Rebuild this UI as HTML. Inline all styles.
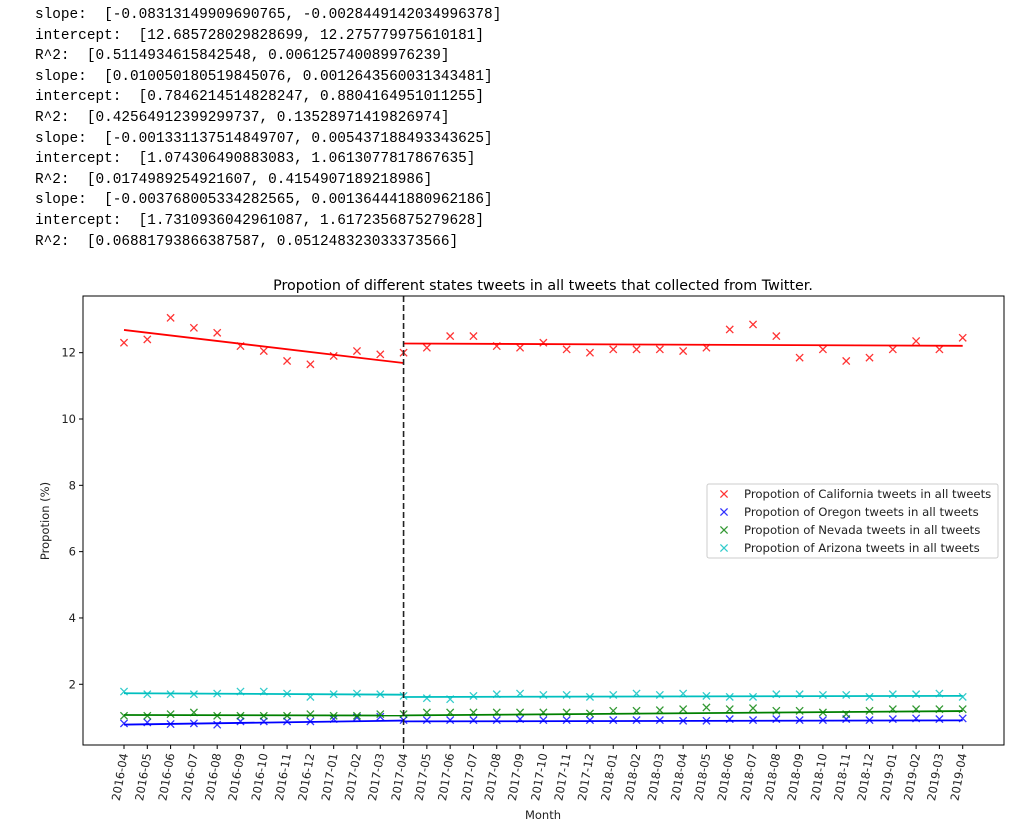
<!DOCTYPE html>
<html><head><meta charset="utf-8"><style>
body{margin:0;background:#fff;width:1027px;height:831px;overflow:hidden;position:relative}
#out{position:absolute;left:35px;top:5px;font-family:"Liberation Mono","Noto Sans CJK SC",monospace;font-size:14.4px;line-height:20.6px;color:#000;white-space:pre;margin:0}
svg{position:absolute;left:0;top:0}
</style></head><body>
<pre id="out">slope:  [-0.08313149909690765, -0.0028449142034996378]
intercept:  [12.685728029828699, 12.275779975610181]
R^2:  [0.5114934615842548, 0.006125740089976239]
slope:  [0.010050180519845076, 0.0012643560031343481]
intercept:  [0.7846214514828247, 0.8804164951011255]
R^2:  [0.42564912399299737, 0.13528971419826974]
slope:  [-0.001331137514849707, 0.005437188493343625]
intercept:  [1.074306490883083, 1.0613077817867635]
R^2:  [0.0174989254921607, 0.4154907189218986]
slope:  [-0.003768005334282565, 0.001364441880962186]
intercept:  [1.7310936042961087, 1.6172356875279628]
R^2:  [0.06881793866387587, 0.051248323033373566]</pre>
<svg id="chart" width="1027" height="831" font-family="DejaVu Sans, Liberation Sans, sans-serif"></svg>
<script>
const months=["2016-04","2016-05","2016-06","2016-07","2016-08","2016-09","2016-10","2016-11","2016-12","2017-01","2017-02","2017-03","2017-04","2017-05","2017-06","2017-07","2017-08","2017-09","2017-10","2017-11","2017-12","2018-01","2018-02","2018-03","2018-04","2018-05","2018-06","2018-07","2018-08","2018-09","2018-10","2018-11","2018-12","2019-01","2019-02","2019-03","2019-04"];
const california=[12.3,12.4,13.05,12.75,12.6,12.2,12.05,11.75,11.65,11.9,12.05,11.95,12.0,12.15,12.5,12.5,12.2,12.15,12.3,12.1,12.0,12.1,12.1,12.1,12.05,12.15,12.7,12.85,12.5,11.85,12.1,11.75,11.85,12.1,12.35,12.1,12.45];
const oregon=[0.82,0.85,0.8,0.82,0.78,0.88,0.88,0.88,0.88,0.95,1.0,1.02,0.92,0.92,0.92,0.92,0.92,0.95,0.92,0.92,0.92,0.92,0.92,0.92,0.9,0.9,0.95,0.92,0.95,0.92,0.92,0.95,0.92,0.95,0.97,0.95,0.97];
const nevada=[1.05,1.05,1.1,1.15,1.05,1.05,1.05,1.05,1.1,1.05,1.05,1.1,1.1,1.15,1.15,1.15,1.15,1.15,1.15,1.15,1.12,1.2,1.2,1.22,1.25,1.3,1.25,1.28,1.2,1.2,1.15,1.1,1.2,1.25,1.25,1.25,1.25];
const arizona=[1.78,1.7,1.7,1.7,1.72,1.78,1.78,1.72,1.62,1.7,1.72,1.7,1.65,1.58,1.55,1.65,1.7,1.72,1.68,1.68,1.62,1.68,1.72,1.68,1.72,1.65,1.62,1.62,1.7,1.7,1.68,1.68,1.62,1.7,1.7,1.72,1.62];
const slopes=[[-0.08313149909690765,-0.0028449142034996378],[0.010050180519845076,0.0012643560031343481],[-0.001331137514849707,0.005437188493343625],[-0.003768005334282565,0.001364441880962186]];
const intercepts=[[12.685728029828699,12.275779975610181],[0.7846214514828247,0.8804164951011255],[1.074306490883083,1.0613077817867635],[1.7310936042961087,1.6172356875279628]];
const yTicks=[2,4,6,8,10,12];
const breakIndex=12;
const seriesNames=["California","Oregon","Nevada","Arizona"];
const colors=["#ff0000","#0000ff","#008000","#00bfbf"];
const allSeries=[california,oregon,nevada,arizona];

const svg=document.getElementById('chart');
const NS='http://www.w3.org/2000/svg';
const L=83,R=1004,T=296,B=745;
const x=i=>124+i*(962.7-124)/36;
const y=v=>750.6-v*33.16;
function mk(tag,attrs,parent){const e=document.createElementNS(NS,tag);for(const k in attrs)e.setAttribute(k,attrs[k]);(parent||svg).appendChild(e);return e;}

const title=mk('text',{x:543,y:290,'text-anchor':'middle','font-size':14.3,fill:'#000'});


title.textContent='Propotion of different states tweets in all tweets that collected from Twitter.';

const plot=mk('g',{});



allSeries.forEach((s,k)=>{
  const g=mk('g',{},plot);
  
  
  s.forEach((v,i)=>{
    const cx=x(i),cy=y(v),d=3.6;
    const p=mk('path',{d:`M${cx-d},${cy-d}L${cx+d},${cy+d}M${cx-d},${cy+d}L${cx+d},${cy-d}`,stroke:colors[k],'stroke-width':1.3,fill:'none','stroke-opacity':0.8},g);
    
    
  });
  const segs=[[0,breakIndex],[breakIndex,months.length-1]];
  segs.forEach((sg,j)=>{
    const a=slopes[k][j],b=intercepts[k][j];
    const n=sg[1]-sg[0];
    const ln=mk('line',{x1:x(sg[0]),y1:y(b),x2:x(sg[1]),y2:y(b+a*n),stroke:colors[k],'stroke-width':1.8},g);
    
    
  });
});

const vl=mk('line',{x1:x(breakIndex),y1:T,x2:x(breakIndex),y2:B,stroke:'#222','stroke-width':1.6,'stroke-dasharray':'6,3'});



const frame=mk('rect',{x:L,y:T,width:R-L,height:B-T,fill:'none',stroke:'#000','stroke-width':1});



yTicks.forEach(v=>{
  const t=mk('line',{x1:L-4,y1:y(v),x2:L,y2:y(v),stroke:'#000'});
  
  
  const tx=mk('text',{x:L-7,y:y(v)+4,'text-anchor':'end','font-size':11.5,fill:'#222'});
  
  
  tx.textContent=v;
});
months.forEach((m,i)=>{
  const t=mk('line',{x1:x(i),y1:B,x2:x(i),y2:B+4,stroke:'#000'});
  
  
  const tx=mk('text',{x:x(i)+4,y:B+9,'text-anchor':'end','font-size':11.5,fill:'#222',transform:`rotate(-80 ${x(i)+4} ${B+9})`});
  
  
  tx.textContent=m;
});
const xl=mk('text',{x:543,y:819,'text-anchor':'middle','font-size':11.5,fill:'#222'});


xl.textContent='Month';
const yl=mk('text',{x:49,y:521,'text-anchor':'middle','font-size':11.5,fill:'#222',transform:'rotate(-90 49 521)'});


yl.textContent='Propotion (%)';

const lg=mk('g',{});


mk('rect',{x:707,y:484,width:291,height:74,rx:2,fill:'#fff',stroke:'#ccc','stroke-width':1},lg);
seriesNames.forEach((n,k)=>{
  const ey=494+k*18,d=3.6,cx=724;
  const e=mk('g',{},lg);
  
  
  mk('path',{d:`M${cx-d},${ey-d}L${cx+d},${ey+d}M${cx-d},${ey+d}L${cx+d},${ey-d}`,stroke:colors[k],'stroke-width':1.3,fill:'none','stroke-opacity':0.8},e);
  const t=mk('text',{x:744,y:ey+4,'font-size':11.7,fill:'#222'},e);
  t.textContent='Propotion of '+n+' tweets in all tweets';
});
</script>
</body></html>
